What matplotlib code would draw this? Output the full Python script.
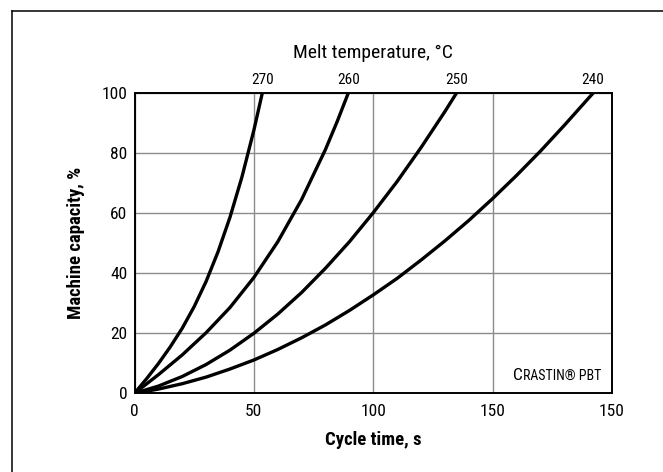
import matplotlib
matplotlib.use("Agg")
import matplotlib.pyplot as plt
from matplotlib.lines import Line2D
from matplotlib.offsetbox import TextArea, HPacker, AnnotationBbox

plt.rcParams['font.family'] = ['Roboto Condensed', 'DejaVu Sans']

# curves: cycle time (s) vs machine capacity (%)
temps = ['270', '260', '250', '240']
x270 = [0, 5, 10, 15, 20, 25, 30, 35, 40, 45, 50, 53.5]
y270 = [0, 4.8, 9.9, 15.5, 21.7, 28.9, 37.3, 47.2, 58.7, 72.1, 87.7, 100]
x260 = [0, 10, 20, 30, 40, 50, 60, 70, 80, 85, 89.5]
y260 = [0, 6.2, 12.8, 20.2, 28.6, 38.6, 50.5, 64.6, 81.3, 90.8, 100]
x250 = [0, 10, 20, 30, 40, 50, 60, 70, 80, 90, 100, 110, 120, 130, 134.8]
y250 = [0, 2.4, 5.6, 9.6, 14.4, 20.0, 26.4, 33.6, 41.7, 50.5, 60.2, 70.6, 81.9, 93.9, 100]
x240 = [0, 10, 20, 30, 40, 50, 60, 70, 80, 90, 100, 110, 120, 130, 140, 150,
        160, 170, 180, 192]
y240 = [0, 1.4, 3.2, 5.4, 8.1, 11.1, 14.6, 18.5, 22.8, 27.6, 32.8, 38.3, 44.4,
        50.8, 57.6, 64.9, 72.6, 80.7, 89.3, 100]
curves = [(x270, y270), (x260, y260), (x250, y250), (x240, y240)]

xticks = [0, 50, 100, 150, 200]
xtick_labels = ['0', '50', '100', '150', '150']
yticks = [0, 20, 40, 60, 80, 100]

W, H = 663, 472
fig = plt.figure(figsize=(W / 100, H / 100), dpi=100)
ax = fig.add_axes([134.5 / W, (H - 393.3) / H, 477.5 / W, 300 / H])

for xs, ys in curves:
    ax.plot(xs, ys, color='black', lw=2.4, solid_joinstyle='round', zorder=3)

ax.set_xlim(0, 200)
ax.set_ylim(0, 100)
ax.set_xticks(xticks)
ax.set_xticklabels(xtick_labels)
ax.set_yticks(yticks)
ax.grid(True, color='#8c8c8c', lw=1.0)
ax.tick_params(length=0, labelsize=12.5)
ax.tick_params(axis='x', pad=8)
ax.tick_params(axis='y', pad=5)
for s in ax.spines.values():
    s.set_linewidth(1.4)

ax.set_xlabel('Cycle time, s', fontsize=13.5, fontweight='bold', va='center')
ax.xaxis.set_label_coords(0.5, (393.3 - 440) / 300)
ax.set_ylabel('Machine capacity, %', fontsize=13.5, fontweight='bold', va='center')
ax.yaxis.set_label_coords((76 - 134.5) / 477.5, 0.5)

# temperature labels centred over the curve ends
for t, (xs, ys) in zip(temps, curves):
    ax.text(xs[-1], 102, t, ha='center', va='bottom', fontsize=11,
            clip_on=False)
ax.text(100, 110.5, 'Melt temperature, \u00b0C', ha='center', va='bottom',
        fontsize=14, clip_on=False)

# small caps brand label
big = TextArea('C', textprops=dict(fontsize=12.5))
small = TextArea('RASTIN\u00ae PBT', textprops=dict(fontsize=10))
box = HPacker(children=[big, small], align='baseline', pad=0, sep=0)
ab = AnnotationBbox(box, (0.977, 0.035), xycoords='axes fraction',
                    box_alignment=(1, 0), frameon=False)
ax.add_artist(ab)

# outer frame (top and left edges only)
fig.add_artist(Line2D([12 / W, 1], [1 - 10.7 / H, 1 - 10.7 / H], color='black', lw=1.1))
fig.add_artist(Line2D([12 / W, 12 / W], [0, 1 - 10.7 / H], color='black', lw=1.1))

fig.savefig('out.png', dpi=100)
